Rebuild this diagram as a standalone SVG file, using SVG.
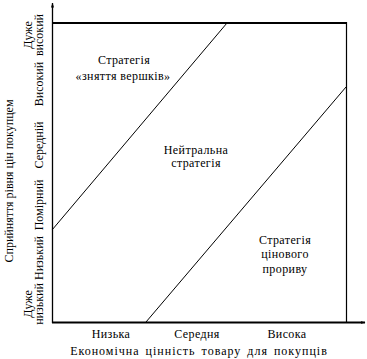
<svg xmlns="http://www.w3.org/2000/svg" width="367" height="359" viewBox="0 0 367 359">
<style>
text{font-family:'Liberation Serif','DejaVu Serif',serif;font-size:12px;fill:#000;letter-spacing:0.4px}
.m{text-anchor:middle}
.y{letter-spacing:0}
.ln{stroke:#000;fill:none}
</style>
<defs>
<marker id="ar" viewBox="0 0 10 6" refX="9" refY="3" markerWidth="5" markerHeight="3" markerUnits="userSpaceOnUse" orient="auto">
<path d="M0,0 L10,3 L0,6 Z" fill="#000"/>
</marker>
</defs>
<rect width="367" height="359" fill="#fff"/>
<g id="connectors">
<line class="ln" x1="52.5" y1="323" x2="52.5" y2="3" stroke-width="1.3" marker-end="url(#ar)"/>
<line class="ln" x1="52" y1="322.5" x2="365" y2="322.5" stroke-width="2" marker-end="url(#ar)"/>
<line class="ln" x1="52" y1="23" x2="346.5" y2="23" stroke-width="2"/>
<line class="ln" x1="346.5" y1="22" x2="346.5" y2="322" stroke-width="1.2"/>
<line class="ln" x1="52" y1="230" x2="227" y2="23" stroke-width="1"/>
<line class="ln" x1="146" y1="322" x2="346" y2="87" stroke-width="1"/>
</g>
<g id="zone-skimming">
<text class="m" x="124" y="64">Стратегія</text>
<text class="m" x="123" y="80">«зняття вершків»</text>
</g>
<g id="zone-neutral">
<text class="m" x="196" y="154">Нейтральна</text>
<text class="m" x="196" y="167">стратегія</text>
</g>
<g id="zone-penetration">
<text class="m" x="285" y="244">Стратегія</text>
<text class="m" x="285" y="258">цінового</text>
<text class="m" x="285" y="273">прориву</text>
</g>
<g id="x-labels">
<text class="m" x="111" y="338">Низька</text>
<text class="m" x="197" y="338">Середня</text>
<text class="m" x="287" y="338">Висока</text>
<text class="m" x="199" y="355" style="letter-spacing:1px;word-spacing:2px">Економічна цінність товару для покупців</text>
</g>
<g id="y-labels">
<text class="m y" transform="translate(13,181) rotate(-90)">Сприйняття рівня цін покупцем</text>
<text class="m y" transform="translate(32,35) rotate(-90)">Дуже</text>
<text class="m y" transform="translate(43,35) rotate(-90)">високий</text>
<text class="m y" transform="translate(43,84) rotate(-90)">Високий</text>
<text class="m y" transform="translate(43,145) rotate(-90)">Середній</text>
<text class="m y" transform="translate(43,205) rotate(-90)">Помірний</text>
<text class="m y" transform="translate(43,258) rotate(-90)">Низький</text>
<text class="m y" transform="translate(32,304) rotate(-90)">Дуже</text>
<text class="m y" transform="translate(43,304) rotate(-90)">низький</text>
</g>
</svg>
